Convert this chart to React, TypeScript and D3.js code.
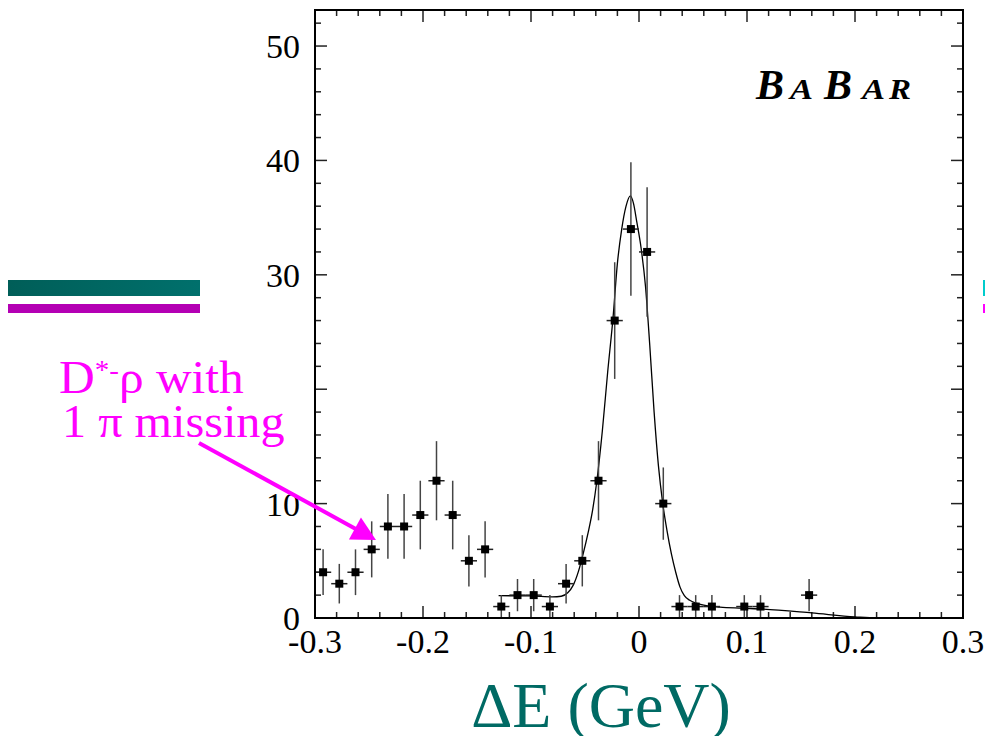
import React from "react";
import * as d3 from "d3";

// ---- data ----
const deltaE = [-0.2925, -0.2775, -0.2625, -0.2475, -0.2325, -0.2175, -0.2025, -0.1875, -0.1725, -0.1575, -0.1425, -0.1275, -0.1125, -0.0975, -0.0825, -0.0675, -0.0525, -0.0375, -0.0225, -0.0075, 0.0075, 0.0225, 0.0375, 0.0525, 0.0675, 0.0975, 0.1125, 0.1575];
const counts = [4, 3, 4, 6, 8, 8, 9, 12, 9, 5, 6, 1, 2, 2, 1, 3, 5, 12, 26, 34, 32, 10, 1, 1, 1, 1, 1, 2];
const errors = [2, 1.73, 2, 2.45, 2.83, 2.83, 3, 3.46, 3, 2.24, 2.45, 1, 1.41, 1.41, 1, 1.73, 2.24, 3.46, 5.1, 5.83, 5.66, 3.16, 1, 1, 1, 1, 1, 1.41];
const halfBin = 0.0075;

const fitX = [-0.13, -0.1, -0.08, -0.072, -0.066, -0.061, -0.056, -0.052, -0.047, -0.043, -0.039, -0.034, -0.029, -0.024, -0.02, -0.016, -0.012, -0.008, -0.005, -0.002, 0.002, 0.006, 0.01, 0.014, 0.018, 0.022, 0.026, 0.03, 0.034, 0.038, 0.042, 0.047, 0.053, 0.06, 0.075, 0.095, 0.115, 0.16, 0.2, 0.22, 0.3];
const fitY = [1.95, 1.93, 1.85, 1.9, 2.2, 2.85, 4.1, 5.5, 7.5, 9.4, 12.0, 16.3, 21.5, 26.3, 31.0, 34.0, 36.0, 36.9, 36.2, 34.6, 32.3, 29.0, 23.8, 18.0, 13.3, 10.0, 7.6, 5.6, 4.0, 2.7, 1.95, 1.55, 1.3, 1.12, 0.95, 0.86, 0.78, 0.44, 0.1, 0.0, 0.0];

const xTickLabels = ["-0.3", "-0.2", "-0.1", "0", "0.1", "0.2", "0.3"];
const xTickValues = [-0.3, -0.2, -0.1, 0, 0.1, 0.2, 0.3];
const yTickLabels = ["0", "10", "30", "40", "50"];
const yTickValues = [0, 10, 30, 40, 50];

const xTitle = "ΔE (GeV)";
const annotLine1 = ["D", "*-", "ρ with"];
const annotLine2 = "1 π missing";
const logoLetters = ["B", "A", "B", "A", "R"];
const logoBig = [true, false, true, false, false];

const W = 985, H = 736;
const L = 315, R = 963, T = 10, B = 618;
const serif = "Liberation Serif, Tinos, Times New Roman, serif";
const TEAL = "#006a64";
const MAG = "#ff00ff";

export default function App() {
  const x = d3.scaleLinear().domain([-0.3, 0.3]).range([L, R]);
  const y = d3.scaleLinear().domain([0, 53.15]).range([B, T]);

  const xMinor = d3.range(0, 31).map((i) => -0.3 + i * 0.02);
  const yMinor = d3.range(0, 27).map((i) => i * 2);

  const line = d3
    .line<number>()
    .x((_, i) => x(fitX[i]))
    .y((d) => y(d))
    .curve(d3.curveMonotoneX);

  const tickCol = "#222";
  const tickW = 1.5;

  // arrow
  const a0 = [199, 443];
  const tip = [376, 540];
  const dx = tip[0] - a0[0], dy = tip[1] - a0[1];
  const len = Math.hypot(dx, dy);
  const ux = dx / len, uy = dy / len;
  const hl = 24, hw = 12.5;
  const bx = tip[0] - hl * ux, by = tip[1] - hl * uy;
  const head = `${tip[0]},${tip[1]} ${bx - hw * uy},${by + hw * ux} ${bx + hw * uy},${by - hw * ux}`;

  const logoX = [756, 790, 824, 862, 889];
  const logoScale = [1, 1.15, 1, 1.15, 1.1];
  const tStyle = { fontFamily: serif } as React.CSSProperties;

  return (
    <svg width={W} height={H} style={{ position: "absolute", left: 0, top: 0, background: "#fff" }}>
      <defs>
        <linearGradient id="tealg" x1="0" x2="1" y1="0" y2="0">
          <stop offset="0" stopColor="#005e58" />
          <stop offset="1" stopColor="#00706c" />
        </linearGradient>
      </defs>

      {/* left decorative bars */}
      <rect x={8} y={280} width={192} height={16} fill="url(#tealg)" />
      <rect x={8} y={304} width={192} height={9} fill="#b400b4" />
      <rect x={983} y={280} width={2} height={16} fill="#00cccc" />
      <rect x={983} y={304} width={2} height={9} fill={MAG} />

      {/* ticks */}
      {xMinor.map((v, i) => {
        const major = i % 5 === 0;
        const l = major ? 12 : 6;
        return (
          <g key={"xt" + i}>
            <line x1={x(v)} x2={x(v)} y1={B} y2={B - l} stroke={tickCol} strokeWidth={tickW} />
            <line x1={x(v)} x2={x(v)} y1={T} y2={T + l} stroke={tickCol} strokeWidth={tickW} />
          </g>
        );
      })}
      {yMinor.map((v, i) => {
        const major = v % 10 === 0;
        const l = major ? 12 : 6;
        return (
          <g key={"yt" + i}>
            <line x1={L} x2={L + l} y1={y(v)} y2={y(v)} stroke={tickCol} strokeWidth={tickW} />
            <line x1={R} x2={R - l} y1={y(v)} y2={y(v)} stroke={tickCol} strokeWidth={tickW} />
          </g>
        );
      })}

      {/* fit curve */}
      <path d={line(fitY) || ""} fill="none" stroke="#000" strokeWidth={1.3} />

      {/* data points */}
      {deltaE.map((v, i) => (
        <g key={"p" + i}>
          <line x1={x(v)} x2={x(v)} y1={y(Math.max(0, counts[i] - errors[i]))} y2={y(counts[i] + errors[i])} stroke="#444" strokeWidth={1.5} />
          <line x1={x(v - halfBin)} x2={x(v + halfBin)} y1={y(counts[i])} y2={y(counts[i])} stroke="#222" strokeWidth={1.5} />
          <rect x={x(v) - 4} y={y(counts[i]) - 4} width={8} height={8} fill="#000" />
        </g>
      ))}

      {/* frame */}
      <rect x={L} y={T} width={R - L} height={B - T} fill="none" stroke="#000" strokeWidth={2} />

      {/* tick labels */}
      {xTickValues.map((v, i) => (
        <text key={"xl" + i} x={x(v)} y={653} textAnchor="middle" fontSize={34} fill="#000" style={tStyle}>
          {xTickLabels[i]}
        </text>
      ))}
      {yTickValues.map((v, i) => (
        <text key={"yl" + i} x={300} y={y(v) + 12} textAnchor="end" fontSize={34} fill="#000" style={tStyle}>
          {yTickLabels[i]}
        </text>
      ))}

      {/* axis title */}
      <text x={601} y={727} textAnchor="middle" fontSize={64} fill={TEAL} style={tStyle}>
        {xTitle}
      </text>

      {/* BaBar logo */}
      {logoLetters.map((c, i) => (
        <text
          key={"lg" + i}
          transform={`translate(${logoX[i]},99) scale(${logoScale[i]},1)`}
          fontSize={logoBig[i] ? 42 : 30}
          fontWeight="bold"
          fontStyle="italic"
          fill="#000"
          style={tStyle}
        >
          {c}
        </text>
      ))}

      {/* annotation */}
      <text transform="translate(59,393) scale(1.075,1)" fontSize={46} fill={MAG} style={tStyle}>
        {annotLine1[0]}
        <tspan fontSize={27} dy={-14}>{annotLine1[1]}</tspan>
        <tspan fontSize={46} dy={14}>{annotLine1[2]}</tspan>
      </text>
      <text transform="translate(62,437) scale(1.048,1)" fontSize={46} fill={MAG} style={tStyle}>
        {annotLine2}
      </text>
      <line x1={a0[0]} y1={a0[1]} x2={bx + ux * 2} y2={by + uy * 2} stroke={MAG} strokeWidth={4} />
      <polygon points={head} fill={MAG} />
    </svg>
  );
}
